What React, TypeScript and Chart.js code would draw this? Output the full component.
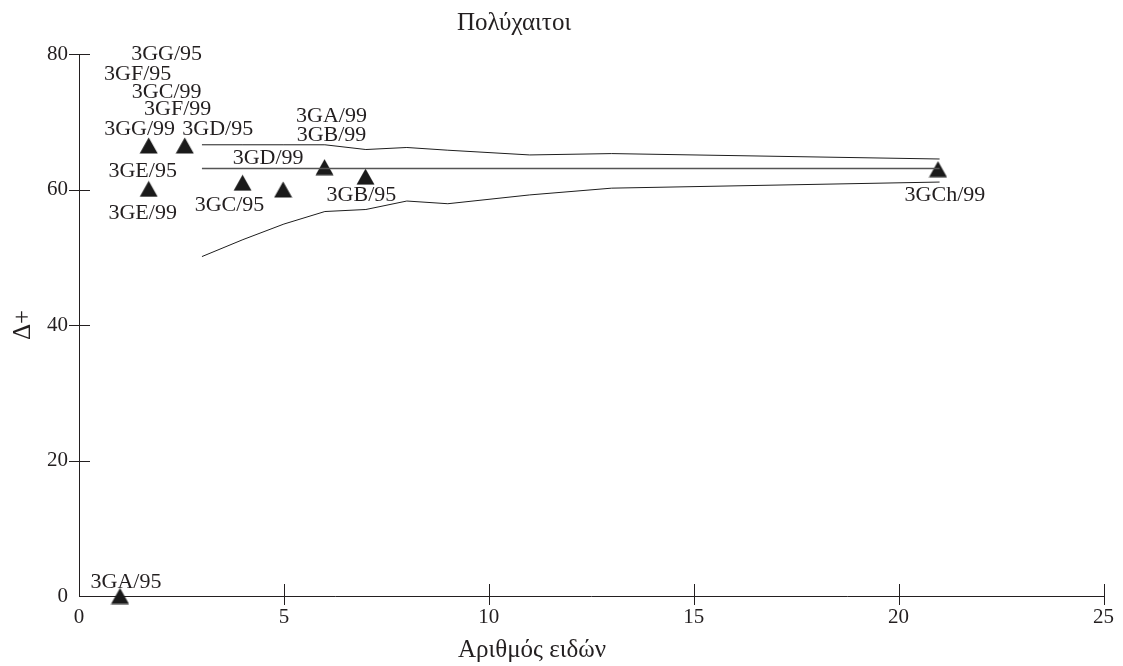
import React, { useEffect, useRef } from "react";
import { Chart, registerables } from "chart.js";

Chart.register(...registerables);

// ---- data ----
const TITLE = "Πολύχαιτοι";
const X_TITLE = "Αριθμός ειδών";
const Y_TITLE = "Δ+";

const pointX = [1, 1.7, 2.58, 1.7, 3.99, 4.98, 5.99, 6.99, 20.96];
const pointY = [0, 66.5, 66.5, 60.1, 61.0, 60.0, 63.3, 61.9, 63.0];

const labelText = [
  "3GA/95", "3GG/95", "3GF/95", "3GC/99", "3GF/99", "3GG/99", "3GD/95",
  "3GE/95", "3GE/99", "3GC/95", "3GD/99", "3GA/99", "3GB/99", "3GB/95", "3GCh/99",
];
const labelPoint = [0, 1, 1, 1, 1, 1, 2, 3, 3, 4, 5, 6, 6, 7, 8];
// pixel offsets of label centre from its point
const labelDx = [6, 18, -11, 18, 29, -9, 33, -6, -6, -13, -15, 7, 7, -4, 7];
const labelDy = [-15, -92, -72, -54, -37, -17, -17, -19, 23, 21, -33, -52, -33, 17, 25];

const boundX = [3, 4, 5, 6, 7, 8, 9, 11, 13, 21];
const upperBound = [66.6, 66.6, 66.6, 66.6, 65.9, 66.2, 65.8, 65.1, 65.3, 64.5];
const lowerBound = [50.1, 52.6, 54.9, 56.75, 57.05, 58.3, 57.9, 59.2, 60.2, 61.1];
const meanX = [3, 21];
const meanY = [63.1, 63.1];

const xTicks = [0, 5, 10, 15, 20, 25];
const yTicks = [0, 20, 40, 60, 80];

const FONT = "'Liberation Serif', 'DejaVu Serif', serif";
const INK = "#231f20";

function makeTriangle(): HTMLCanvasElement {
  const c = document.createElement("canvas");
  c.width = 19;
  c.height = 17;
  const g = c.getContext("2d")!;
  g.fillStyle = "#1a1a1a";
  g.beginPath();
  g.moveTo(0.5, 16.5);
  g.lineTo(9.5, 0.5);
  g.lineTo(18.5, 16.5);
  g.closePath();
  g.fill();
  return c;
}

const decorPlugin = {
  id: "decor",
  afterDraw(chart: any) {
    const ctx = chart.ctx;
    const xs = chart.scales.x;
    const ys = chart.scales.y;
    ctx.save();
    ctx.strokeStyle = INK;
    ctx.lineWidth = 1;
    // tick marks
    xTicks.forEach((t) => {
      if (t === 0) return;
      const px = Math.round(xs.getPixelForValue(t)) + 0.5;
      const py = ys.getPixelForValue(0);
      ctx.beginPath();
      ctx.moveTo(px, py - 12);
      ctx.lineTo(px, py + 9);
      ctx.stroke();
    });
    yTicks.forEach((t) => {
      if (t === 0) return;
      const py = Math.round(ys.getPixelForValue(t)) + 0.5;
      const px = xs.getPixelForValue(0);
      ctx.beginPath();
      ctx.moveTo(px - 10, py);
      ctx.lineTo(px + 11, py);
      ctx.stroke();
    });
    // titles
    ctx.fillStyle = INK;
    ctx.textAlign = "center";
    ctx.textBaseline = "alphabetic";
    ctx.font = `25px ${FONT}`;
    ctx.fillText(TITLE, 514, 30);
    ctx.fillText(X_TITLE, 532, 657);
    ctx.save();
    ctx.translate(30, 325);
    ctx.rotate(-Math.PI / 2);
    ctx.fillText(Y_TITLE, 0, 0);
    ctx.restore();
    // point labels
    ctx.font = `22px ${FONT}`;
    labelText.forEach((txt, i) => {
      const p = labelPoint[i];
      const px = xs.getPixelForValue(pointX[p]);
      const py = ys.getPixelForValue(pointY[p]);
      ctx.fillText(txt, px + labelDx[i], py + labelDy[i] + 7);
    });
    ctx.restore();
  },
};

export default function App() {
  const ref = useRef<HTMLCanvasElement>(null);
  useEffect(() => {
    if (!ref.current) return;
    const tri = makeTriangle();
    const line = (xv: number[], yv: number[], w: number, col: string) => ({
      type: "line" as const,
      data: xv.map((x, i) => ({ x, y: yv[i] })),
      borderColor: col,
      borderWidth: w,
      pointRadius: 0,
      fill: false,
      tension: 0,
      showLine: true,
    });
    const chart = new Chart(ref.current, {
      type: "scatter",
      data: {
        datasets: [
          line(boundX, upperBound, 1, "#1e1e1e"),
          line(boundX, lowerBound, 1, "#1e1e1e"),
          line(meanX, meanY, 1.3, "#555555"),
          {
            type: "scatter",
            data: pointX.map((x, i) => ({ x, y: pointY[i] })),
            pointStyle: tri as any,
            pointRadius: 10,
            clip: false as any,
          } as any,
        ],
      },
      options: {
        responsive: false,
        animation: false,
        layout: { padding: { top: 54, right: 17, left: 0, bottom: 0 } },
        plugins: {
          legend: { display: false },
          title: { display: false },
          tooltip: { enabled: false },
        },
        scales: {
          x: {
            type: "linear",
            min: 0,
            max: 25,
            afterFit: (s: any) => {
              s.height = 70;
            },
            afterBuildTicks: (s: any) => {
              s.ticks = xTicks.map((v) => ({ value: v }));
            },
            grid: { display: false, drawTicks: false },
            border: { display: true, color: INK, width: 1 },
            ticks: {
              padding: 9,
              color: INK,
              font: { family: FONT, size: 21 },
              maxRotation: 0,
            },
          },
          y: {
            type: "linear",
            min: 0,
            max: 80,
            afterFit: (s: any) => {
              s.width = 79;
            },
            afterBuildTicks: (s: any) => {
              s.ticks = yTicks.map((v) => ({ value: v }));
            },
            grid: { display: false, drawTicks: false },
            border: { display: true, color: INK, width: 1 },
            ticks: {
              padding: 11,
              color: INK,
              font: { family: FONT, size: 21 },
            },
          },
        },
      },
      plugins: [decorPlugin],
    });
    return () => chart.destroy();
  }, []);
  return (
    <div style={{ position: "absolute", left: 0, top: 0, width: 1123, height: 666, background: "#fff" }}>
      <canvas ref={ref} width={1123} height={666} />
    </div>
  );
}
